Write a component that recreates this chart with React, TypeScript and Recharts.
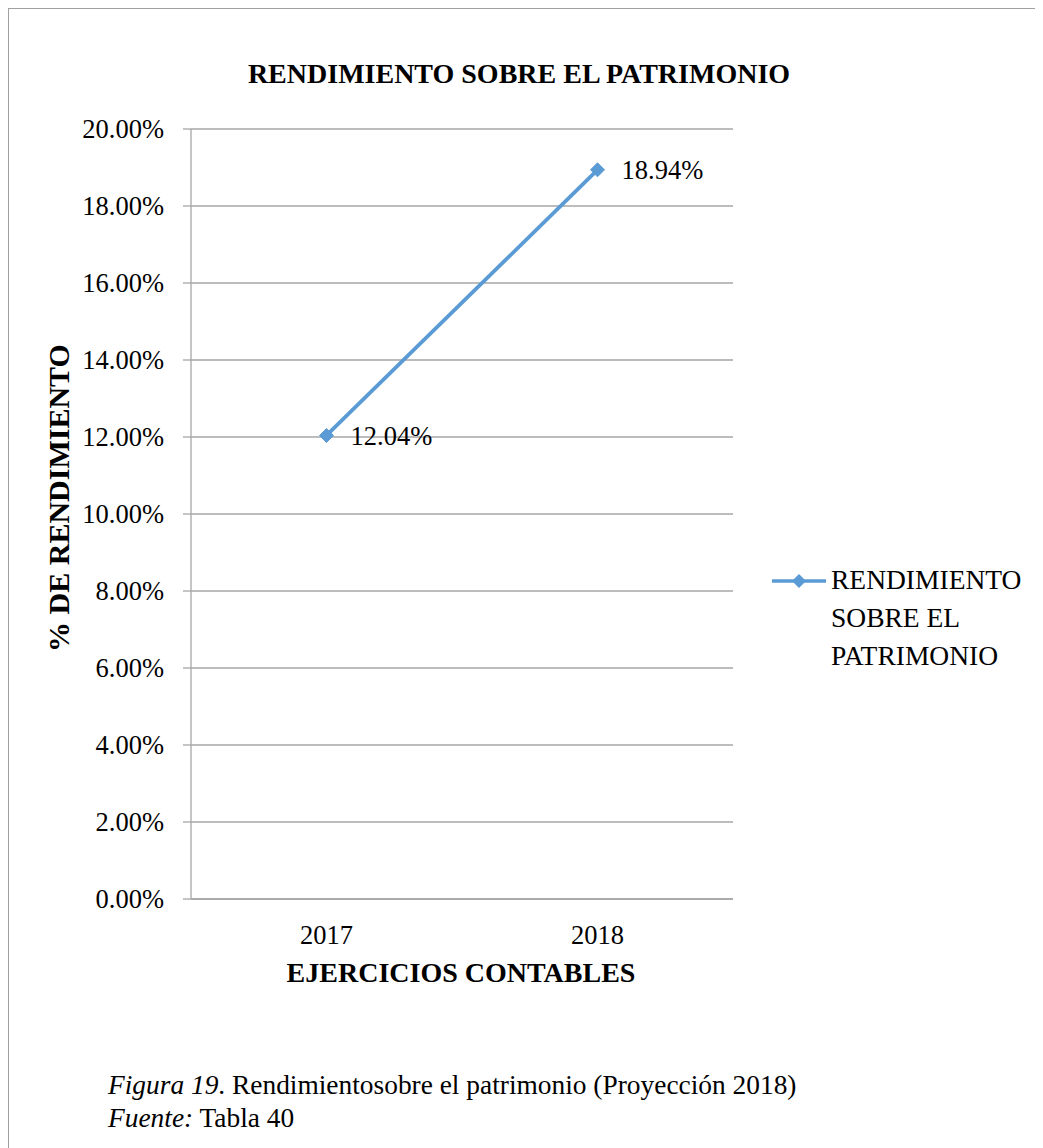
import React from 'react';
import { LineChart, Line, XAxis, YAxis, CartesianGrid, Legend, LabelList, Customized } from 'recharts';

const years = ['2017', '2018'];
const roeValues = [0.1204, 0.1894];
const yTicks = [0, 0.02, 0.04, 0.06, 0.08, 0.1, 0.12, 0.14, 0.16, 0.18, 0.2];
const seriesName = 'RENDIMIENTO SOBRE EL PATRIMONIO';
const legendLines = ['RENDIMIENTO', 'SOBRE EL', 'PATRIMONIO'];
const chartTitle = 'RENDIMIENTO SOBRE EL PATRIMONIO';
const xTitle = 'EJERCICIOS CONTABLES';
const yTitle = '% DE RENDIMIENTO';

const data = years.map((y, i) => ({ year: y, value: roeValues[i] }));

const FONT = '"Liberation Serif", "Times New Roman", serif';
const LINE_COLOR = '#5b9bd5';
const GRID = '#a6a6a6';
const FS = 26.5;

const pct = (v: number) => (v * 100).toFixed(2) + '%';

const Diamond = (props: any) => {
  const { cx, cy } = props;
  if (cx == null || cy == null) return null;
  const r = 7;
  return (
    <polygon
      points={`${cx},${cy - r} ${cx + r},${cy} ${cx},${cy + r} ${cx - r},${cy}`}
      fill={LINE_COLOR}
      stroke={LINE_COLOR}
    />
  );
};

const LegendContent = () => (
  <div style={{ display: 'flex', alignItems: 'flex-start', fontFamily: FONT, fontSize: 27.5, color: '#000' }}>
    <svg width={60} height={30} style={{ flex: 'none', marginTop: 5 }}>
      <line x1={3} y1={15} x2={57} y2={15} stroke={LINE_COLOR} strokeWidth={3.5} />
      <polygon points="30,8 37,15 30,22 23,15" fill={LINE_COLOR} />
    </svg>
    <div style={{ marginLeft: 2, lineHeight: '38px' }}>
      {legendLines.map((l) => (
        <div key={l}>{l}</div>
      ))}
    </div>
  </div>
);

const Titles = () => (
  <g>
    <text x={510} y={74} textAnchor="middle" fontFamily={FONT} fontWeight="bold" fontSize={28} fill="#000">
      {chartTitle}
    </text>
    <text x={452} y={973} textAnchor="middle" fontFamily={FONT} fontWeight="bold" fontSize={28} fill="#000">
      {xTitle}
    </text>
    <text
      x={49}
      y={489}
      textAnchor="middle"
      dominantBaseline="central"
      transform="rotate(-90 49 489)"
      fontFamily={FONT}
      fontWeight="bold"
      fontSize={30}
      fill="#000"
    >
      {yTitle}
    </text>
  </g>
);

export default function App() {
  return (
    <div
      style={{
        position: 'relative',
        width: 1035,
        height: 1140,
        borderTop: '1px solid #a0a0a0',
        borderLeft: '1px solid #a0a0a0',
        boxSizing: 'border-box',
        background: '#fff',
        fontFamily: FONT,
      }}
    >
      <div style={{ position: 'absolute', left: 0, top: 0 }}>
        <LineChart
          width={1030}
          height={1000}
          data={data}
          margin={{ top: 120, right: 306, bottom: 50, left: 0 }}
        >
          <CartesianGrid horizontal vertical={false} stroke={GRID} strokeWidth={1.3} />
          <XAxis
            dataKey="year"
            scale="band"
            height={60}
            axisLine={{ stroke: GRID, strokeWidth: 1.3 }}
            tickLine={false}
            tickSize={0}
            tickMargin={26}
            tick={{ fill: '#000', fontSize: FS, fontFamily: FONT }}
          />
          <YAxis
            width={182}
            domain={[0, 0.2]}
            ticks={yTicks}
            interval={0}
            tickFormatter={pct}
            axisLine={{ stroke: GRID, strokeWidth: 1.3 }}
            tickLine={{ stroke: GRID, strokeWidth: 1.3 }}
            tickSize={8}
            tickMargin={19}
            tick={{ fill: '#000', fontSize: FS, fontFamily: FONT }}
          />
          <Legend
            layout="horizontal"
            verticalAlign="middle"
            align="center"
            content={<LegendContent />}
            wrapperStyle={{ position: 'absolute', left: 760, top: 552, width: 270 }}
          />
          <Line
            name={seriesName}
            dataKey="value"
            stroke={LINE_COLOR}
            strokeWidth={3.8}
            dot={<Diamond />}
            activeDot={false}
            isAnimationActive={false}
          >
            <LabelList
              dataKey="value"
              position="right"
              offset={24}
              formatter={(v: any) => pct(Number(v))}
              fill="#000"
              fontSize={FS}
              fontFamily={FONT}
            />
          </Line>
          <Customized component={Titles} />
        </LineChart>
      </div>
      <div
        style={{
          position: 'absolute',
          left: 99,
          top: 1060,
          fontSize: 27.4,
          lineHeight: '33px',
          color: '#000',
          fontFamily: FONT,
        }}
      >
        <div>
          <i>Figura 19</i>. Rendimientosobre el patrimonio (Proyección 2018)
        </div>
        <div>
          <i>Fuente:</i> Tabla 40
        </div>
      </div>
    </div>
  );
}
